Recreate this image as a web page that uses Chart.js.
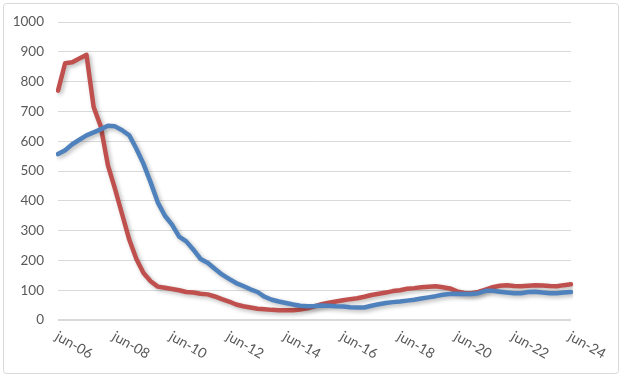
<!DOCTYPE html>
<html><head><meta charset="utf-8">
<script src="https://cdn.jsdelivr.net/npm/chart.js@4"></script>
<style>html,body{margin:0;padding:0;background:#fff}#wrap{width:622px;height:377px;position:relative}</style>
</head><body><div id="wrap"><canvas id="c" width="622" height="377"></canvas></div>
<script>
// Quarterly categories from jun-06 to jun-24
const quarters = (function(){const m=['mar','jun','sep','dec'];const out=[];let q=1,y=6;for(let i=0;i<73;i++){out.push(m[q]+'-'+String(y).padStart(2,'0'));q++;if(q>3){q=0;y++;}}return out;})();
const tickLabels = ['jun-06','jun-08','jun-10','jun-12','jun-14','jun-16','jun-18','jun-20','jun-22','jun-24'];
const yTicks = [0,100,200,300,400,500,600,700,800,900,1000];
const redSeries = [770,862,865,878,890,715,650,520,440,355,270,205,158,130,112,108,104,100,94,92,88,86,79,70,62,52,46,42,38,36,34,33,33,33,35,39,46,53,58,62,66,70,73,78,84,88,92,97,100,105,107,110,112,113,110,106,96,91,90,94,102,110,115,117,114,113,115,117,116,114,113,117,120];
const blueSeries = [557,570,590,605,620,630,640,652,650,637,620,575,524,462,395,350,320,280,264,236,205,192,172,153,138,124,114,103,94,78,68,62,57,52,48,46,47,49,48,46,45,43,42,42,48,53,57,60,62,65,68,72,76,80,85,87,88,87,87,90,98,98,95,92,90,90,94,95,92,90,90,92,94];

const frame = {
  id:'frame',
  beforeDraw(chart){
    const ctx=chart.ctx;ctx.save();
    ctx.fillStyle='#fff';ctx.fillRect(0,0,chart.width,chart.height);
    ctx.strokeStyle='#D9D9D9';ctx.lineWidth=1;
    ctx.beginPath();
    if(ctx.roundRect){ctx.roundRect(3.5,3.5,615,370,3);}else{ctx.rect(3.5,3.5,615,370);}
    ctx.stroke();ctx.restore();
  },
  beforeDatasetsDraw(chart){
    const ctx=chart.ctx;ctx.save();
    ctx.shadowColor='rgba(0,0,0,0.28)';ctx.shadowBlur=4;ctx.shadowOffsetX=2;ctx.shadowOffsetY=2;
  },
  afterDatasetsDraw(chart){chart.ctx.restore();},
  afterDraw(chart){
    const ctx=chart.ctx, xs=chart.scales.x;ctx.save();
    ctx.font='14px Lato';ctx.fillStyle='#595959';ctx.textAlign='left';ctx.textBaseline='top';
    tickLabels.forEach((t,k)=>{
      const px=xs.getPixelForValue(k*8);
      ctx.save();ctx.translate(px+2,329);ctx.rotate(Math.PI/6);ctx.fillText(t,0,0);ctx.restore();
    });
    ctx.restore();
  }
};

new Chart(document.getElementById('c'),{
  type:'line',
  data:{labels:quarters,datasets:[
    {label:'rouge',data:redSeries,borderColor:'#C0504D',borderWidth:4.5,pointRadius:0,tension:0,borderJoinStyle:'round',borderCapStyle:'round',order:1,fill:false},
    {label:'bleu',data:blueSeries,borderColor:'#4F81BD',borderWidth:4.5,pointRadius:0,tension:0,borderJoinStyle:'round',borderCapStyle:'round',order:0,fill:false}
  ]},
  options:{
    responsive:false,animation:false,
    layout:{padding:{left:0,right:51,top:21,bottom:0}},
    plugins:{legend:{display:false},tooltip:{enabled:false}},
    scales:{
      x:{type:'category',offset:false,grid:{display:false},border:{display:false},ticks:{display:false},
         afterFit(s){s.height=57;}},
      y:{min:0,max:1000,afterBuildTicks(s){s.ticks=yTicks.map(v=>({value:v}));},
         grid:{color:'#D9D9D9',lineWidth:c=>c.tick&&c.tick.value===0?2:1,drawTicks:false},
         border:{display:false},
         ticks:{padding:14,color:'#595959',font:{family:'Lato',size:13.5},callback:v=>String(v)},
         afterFit(s){s.width=58;}}
    }
  },
  plugins:[frame]
});
</script></body></html>
